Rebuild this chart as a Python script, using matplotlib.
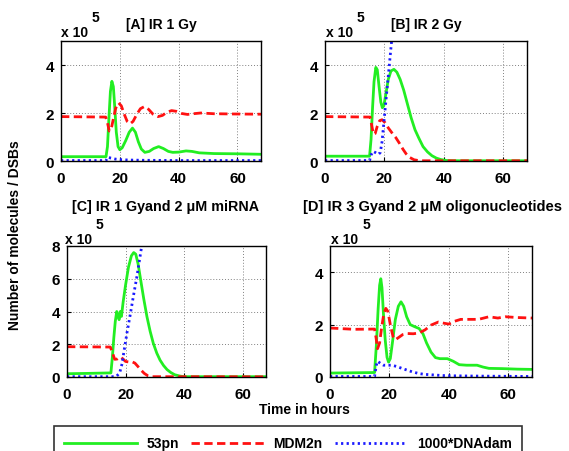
import matplotlib
matplotlib.use("Agg")
import matplotlib.pyplot as plt
from matplotlib.lines import Line2D

plt.rcParams['font.family'] = ['Liberation Sans', 'DejaVu Sans']
plt.rcParams['font.weight'] = 'bold'

# ---------------- data (values in units of 1e5) ----------------
# Panel A: IR 1 Gy
a_p53_t = [0, 15.3, 15.8, 16.3, 16.8, 17.3, 17.8, 18.3, 18.8, 19.4, 20.0, 20.8, 22.0, 23.2, 24.3, 25.3, 26.3, 27.3, 28.5, 30, 31.5, 33.2, 34.8, 36.5, 38, 40, 42.5, 44.5, 47, 52, 60, 68]
a_p53_y = [0.18, 0.18, 0.6, 1.8, 2.9, 3.32, 3.1, 2.2, 1.2, 0.6, 0.47, 0.55, 0.85, 1.2, 1.37, 1.2, 0.8, 0.5, 0.36, 0.4, 0.52, 0.6, 0.52, 0.4, 0.36, 0.37, 0.42, 0.40, 0.34, 0.31, 0.3, 0.28]
a_mdm_t = [0, 15.2, 15.8, 16.4, 17, 17.8, 18.6, 19.6, 20.5, 21.5, 22.5, 23.5, 24.5, 25.8, 27, 28.4, 29.8, 31.3, 33, 34.5, 36, 37.6, 39.2, 41, 43, 45, 47.5, 52, 58, 68]
a_mdm_y = [1.85, 1.83, 1.6, 1.25, 1.3, 1.75, 2.2, 2.42, 2.3, 1.95, 1.65, 1.55, 1.65, 1.95, 2.18, 2.27, 2.15, 1.95, 1.85, 1.9, 2.03, 2.1, 2.07, 1.98, 1.94, 1.97, 2.0, 1.97, 1.96, 1.95]
a_dna_t = [0, 15.3, 15.9, 17, 18.5, 20, 23, 28, 40, 68]
a_dna_y = [0.02, 0.02, 0.16, 0.12, 0.08, 0.06, 0.04, 0.03, 0.02, 0.02]

# Panel B: IR 2 Gy
b_p53_t = [0, 15.0, 15.5, 16.0, 16.5, 17.1, 17.6, 18.2, 18.8, 19.3, 19.8, 20.5, 21.3, 22.2, 23.2, 24.2, 25.3, 26.5, 27.8, 29, 30.3, 31.6, 33, 34.5, 36, 37.5, 39, 41, 45, 68]
b_p53_y = [0.2, 0.2, 0.9, 2.2, 3.3, 3.9, 3.8, 3.1, 2.45, 2.22, 2.3, 2.8, 3.4, 3.75, 3.82, 3.7, 3.4, 2.95, 2.35, 1.8, 1.3, 0.95, 0.6, 0.38, 0.22, 0.12, 0.06, 0.02, 0.01, 0.01]
b_mdm_t = [0, 15.2, 15.7, 16.3, 16.9, 17.6, 18.4, 19.2, 20.2, 21.3, 22.5, 23.8, 25, 26.2, 27.3, 28.5, 30, 32, 68]
b_mdm_y = [1.85, 1.83, 1.5, 1.12, 1.15, 1.45, 1.68, 1.72, 1.6, 1.38, 1.18, 0.98, 0.75, 0.5, 0.3, 0.15, 0.05, 0.01, 0.01]
b_dna_t = [0, 15.0, 15.5, 16.2, 17.0, 18.0, 18.6, 19.2, 20.0, 21.0, 22.0, 22.8]
b_dna_y = [0.02, 0.02, 0.25, 0.4, 0.35, 0.28, 0.35, 0.8, 1.85, 3.15, 4.45, 5.5]

# Panel C: IR 1 Gy and 2 uM miRNA
c_p53_t = [0, 7, 15.0, 15.5, 16.0, 16.5, 17.0, 17.5, 17.8, 18.2, 18.6, 19.2, 20.0, 21.0, 22.0, 22.8, 23.5, 24.3, 25.2, 26.2, 27.3, 28.4, 29.5, 30.7, 31.8, 33, 34.2, 35.5, 36.8, 38.5, 40, 68]
c_p53_y = [0.2, 0.22, 0.25, 1.2, 2.4, 3.4, 4.0, 3.7, 3.5, 4.0, 3.7, 4.6, 5.6, 6.7, 7.4, 7.6, 7.5, 6.9, 5.9, 4.8, 3.7, 2.8, 2.05, 1.45, 1.03, 0.7, 0.45, 0.27, 0.14, 0.06, 0.02, 0.02]
c_mdm_t = [0, 14.8, 15.5, 16.3, 17.2, 18.2, 19.0, 20.0, 21.0, 22.2, 23.2, 24.2, 25.3, 26.4, 27.6, 29, 68]
c_mdm_y = [1.85, 1.83, 1.5, 1.08, 1.1, 1.22, 1.12, 0.95, 0.92, 0.93, 0.85, 0.65, 0.42, 0.22, 0.08, 0.02, 0.01]
c_dna_t = [0, 16, 17, 18, 18.8, 19.5, 20.5, 21.6, 22.7, 23.9, 25, 25.8]
c_dna_y = [0.02, 0.02, 0.06, 0.25, 0.8, 1.6, 2.7, 3.8, 4.95, 6.15, 7.4, 8.3]

# Panel D: IR 3 Gy and 2 uM oligonucleotides
d_p53_t = [0, 15.0, 15.6, 16.2, 16.7, 17.1, 17.5, 18.0, 18.6, 19.2, 19.7, 20.3, 21.0, 22.0, 23.0, 23.9, 24.8, 25.8, 27, 28.5, 30, 31.3, 32.5, 34, 35.5, 37, 39.5, 41.5, 43.5, 46, 49.5, 51.5, 53.5, 58, 63, 68]
d_p53_y = [0.15, 0.17, 1.2, 2.6, 3.5, 3.75, 3.4, 2.4, 1.4, 0.75, 0.57, 0.7, 1.3, 2.2, 2.7, 2.87, 2.7, 2.3, 2.0, 1.92, 1.85, 1.65, 1.3, 0.95, 0.74, 0.7, 0.7, 0.6, 0.47, 0.45, 0.45, 0.38, 0.33, 0.32, 0.3, 0.29]
d_mdm_t = [0, 8, 15.0, 15.5, 16.0, 16.7, 17.4, 18.1, 18.8, 19.5, 20.3, 21.2, 22.0, 23.0, 24.5, 26, 28, 30, 32, 34, 36.5, 38.5, 40, 42, 44, 47, 50, 53.5, 56.5, 59, 63, 68]
d_mdm_y = [1.87, 1.82, 1.83, 1.5, 1.08, 1.3, 1.9, 2.4, 2.62, 2.5, 2.0, 1.55, 1.42, 1.5, 1.62, 1.66, 1.65, 1.68, 1.8, 1.98, 2.1, 2.05, 2.02, 2.13, 2.2, 2.2, 2.2, 2.3, 2.25, 2.3, 2.27, 2.25]
d_dna_t = [0, 15.0, 15.6, 16.0, 17, 18, 20.8, 22.5, 24.2, 26, 27.6, 30, 32, 36, 39, 45, 55, 68]
d_dna_y = [0.02, 0.02, 0.45, 0.6, 0.52, 0.45, 0.45, 0.4, 0.33, 0.26, 0.2, 0.13, 0.1, 0.07, 0.05, 0.04, 0.03, 0.02]

titles = ["[A] IR 1 Gy", "[B] IR 2 Gy", "[C] IR 1 Gyand 2 \u03bcM miRNA", "[D] IR 3 Gyand 2 \u03bcM oligonucleotides"]
ylims = [5, 5, 8, 5]
yticks_list = [[0, 2, 4], [0, 2, 4], [0, 2, 4, 6, 8], [0, 2, 4]]
xticks = [0, 20, 40, 60]
legend_labels = ["53pn", "MDM2n", "1000*DNAdam"]

GREEN = '#22ee22'
RED = '#ff1111'
BLUE = '#1a1aff'

W, H = 569, 452
fig = plt.figure(figsize=(W / 100, H / 100), dpi=100)

# axes boxes in pixels: left, right, top, bottom
boxes = [(61, 261, 42, 162), (325, 527, 42, 162), (67, 266, 247, 378), (330, 532, 247, 378)]
title_pos = [(161, 25), (426, 25), (165, 207), (433, 207)]
title_fs = [10, 10, 10.3, 10.5]
exp_pos = [((61, 33), (92, 18)), ((326, 33), (357, 18)), ((65, 240), (96, 225)), ((331, 240), (363, 225))]

data = [
    (a_p53_t, a_p53_y, a_mdm_t, a_mdm_y, a_dna_t, a_dna_y),
    (b_p53_t, b_p53_y, b_mdm_t, b_mdm_y, b_dna_t, b_dna_y),
    (c_p53_t, c_p53_y, c_mdm_t, c_mdm_y, c_dna_t, c_dna_y),
    (d_p53_t, d_p53_y, d_mdm_t, d_mdm_y, d_dna_t, d_dna_y),
]

FS = 10
for i in range(4):
    l, r, t, b = boxes[i]
    ax = fig.add_axes([l / W, 1 - b / H, (r - l) / W, (b - t) / H])
    pt, py, mt, my, dt, dy = data[i]
    ax.plot(pt, py, color=GREEN, lw=2.0, solid_joinstyle='round')
    ax.plot(mt, my, color=RED, lw=2.0, linestyle=(0, (3, 1.6)))
    ax.plot(dt, dy, color=BLUE, lw=2.0, linestyle=(0, (0.8, 1.2)))
    ax.set_xlim(0, 68)
    ax.set_ylim(0, ylims[i])
    ax.set_xticks(xticks)
    ax.set_yticks(yticks_list[i])
    ax.tick_params(direction='in', length=3, labelsize=FS + 1, width=0.8)
    ax.tick_params(axis='x', pad=7.5)
    ax.tick_params(axis='y', pad=5)
    for lab in ax.get_xticklabels() + ax.get_yticklabels():
        lab.set_fontweight('bold')
    ax.grid(True, color='0.5', linestyle=(0, (1, 2)), lw=0.7)
    for s in ax.spines.values():
        s.set_linewidth(1.0)
        s.set_color('black')
    tx, ty = title_pos[i]
    fig.text(tx / W, 1 - ty / H, titles[i], ha='center', va='center', fontsize=title_fs[i], fontweight='bold')
    (x1, y1), (x2, y2) = exp_pos[i]
    fig.text(x1 / W, 1 - y1 / H, "x 10", ha='left', va='center', fontsize=FS, fontweight='bold')
    fig.text(x2 / W, 1 - y2 / H, "5", ha='left', va='center', fontsize=FS, fontweight='bold')

fig.text(15 / W, 1 - 235 / H, "Number of molecules / DSBs", rotation=90, ha='center', va='center', fontsize=FS, fontweight='bold')
fig.text(304 / W, 1 - 410 / H, "Time in hours", ha='center', va='center', fontsize=FS, fontweight='bold')

handles = [Line2D([], [], color=GREEN, lw=2.0),
           Line2D([], [], color=RED, lw=2.0, linestyle=(0, (3, 1.6))),
           Line2D([], [], color=BLUE, lw=2.0, linestyle=(0, (0.8, 1.2)))]
leg = fig.legend(handles, legend_labels, ncol=3, loc='upper left',
                 bbox_to_anchor=(54 / W, 1 - 427 / H, 468 / W, 0.0), mode='expand',
                 fontsize=FS, handlelength=5.2, handletextpad=0.7, borderpad=0.75,
                 fancybox=False, frameon=True, borderaxespad=0)
leg.get_frame().set_edgecolor('black')
leg.get_frame().set_linewidth(1.2)
for txt in leg.get_texts():
    txt.set_fontweight('bold')

fig.savefig("out.png", dpi=100)
